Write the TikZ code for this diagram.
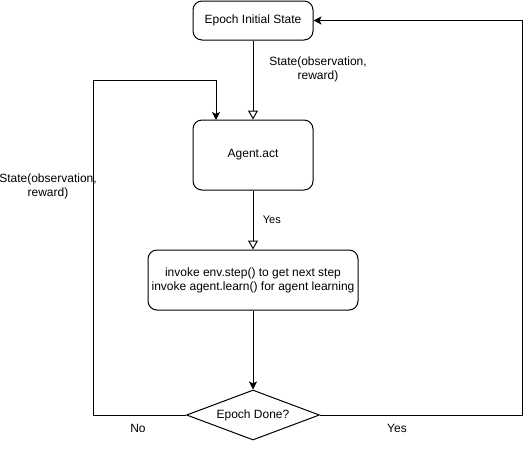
\documentclass[tikz,border=0pt]{standalone}
\usepackage{fontspec}
\setmainfont{Liberation Sans}
\usetikzlibrary{arrows.meta,shapes.geometric}
\begin{document}
\begin{tikzpicture}[x=1pt, y=-1pt, line width=1pt,
    font=\fontsize{12}{14}\selectfont,
    box/.style={draw, rectangle, rounded corners=9pt, align=center},
    openarr/.style={-{Triangle[open, length=9pt, width=10pt]}},
    fillarr/.style={-{Stealth[length=8pt, width=8pt, inset=2pt]}}]
    \useasboundingbox (0,0) rectangle (532,461);
    % boxes
    \node at (253,20.5) [box, minimum width=120pt, minimum height=39pt] (init) {Epoch Initial State};
    \node at (253,155) [box, minimum width=120pt, minimum height=70pt] (act) {Agent.act};
    \node at (253,280) [box, minimum width=210pt, minimum height=60pt] (step) {invoke env.step() to get next step\\invoke agent.learn() for agent learning};
    \node at (253,415) [draw, diamond, aspect=3, inner sep=0pt, minimum width=133pt, minimum height=50pt] (done) {Epoch Done?};
    % loop corners
    \coordinate (nl) at (93,415);
    \coordinate (nt) at (93,80);
    \coordinate (na) at (216,120);
    \coordinate (yr) at (522,415);
    \coordinate (yt) at (522,20.5);
    % connectors
    \draw[openarr] (init) -- (act);
    \draw[openarr] (act) -- (step) node[pos=0.5, right=6pt, font=\fontsize{11}{13}\selectfont] {Yes};
    \draw[fillarr] (step) -- (done);
    \draw[fillarr] (done.west) -- (nl) -- (nt) -| (na);
    \draw[fillarr] (done.east) -- (yr) -- (yt) -- (init.east);
    % labels
    \node[align=center] at (318,69) (lbl1) {State(observation,\\reward)};
    \node[align=center] at (48,186) (lbl2) {State(observation,\\reward)};
    \node at (138,428) (no) {No};
    \node at (397,428) (yes) {Yes};
\end{tikzpicture}
\end{document}
